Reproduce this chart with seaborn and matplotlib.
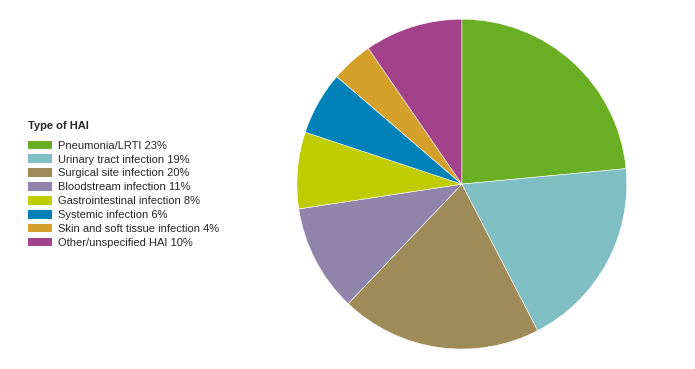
import matplotlib
matplotlib.use("Agg")
import matplotlib.pyplot as plt
import matplotlib.patches as mpatches
import seaborn as sns

# Type of HAI - share of infections (slice sizes)
labels = ["Pneumonia/LRTI 23%", "Urinary tract infection 19%", "Surgical site infection 20%",
          "Bloodstream infection 11%", "Gastrointestinal infection 8%", "Systemic infection 6%",
          "Skin and soft tissue infection 4%", "Other/unspecified HAI 10%"]
values = [23.5, 18.9, 19.7, 10.5, 7.5, 6.2, 4.1, 9.6]
colors = ["#6aaf23", "#7fbec2", "#9e8b57", "#9184ab", "#bfcc00", "#0081b8", "#d4a02a", "#a3418a"]

sns.set_style("white")
plt.rcParams['font.family'] = ['Liberation Sans', 'DejaVu Sans']

fig = plt.figure(figsize=(6.95, 3.69), dpi=100)
ax = fig.add_axes([0.427, 0.054, 0.475, 0.894])
ax.pie(values, colors=colors, startangle=90, counterclock=False,
       wedgeprops=dict(edgecolor="white", linewidth=0.4))
ax.set_xlim(-1, 1)
ax.set_ylim(-1, 1)
ax.set_aspect("equal")

handles = [mpatches.Patch(facecolor=c, edgecolor="none") for c in colors]
leg = fig.legend(handles, labels, title="Type of HAI", loc="upper left",
                 bbox_to_anchor=(0.040, 0.671), frameon=False, fontsize=8,
                 title_fontproperties={"weight": "bold", "size": 8},
                 handlelength=2.2, handleheight=0.8, handletextpad=0.5,
                 labelspacing=0.34, borderaxespad=0, borderpad=0)
leg._legend_box.align = "left"
leg._legend_box.sep = 6.6

fig.savefig("out.png", dpi=100)
